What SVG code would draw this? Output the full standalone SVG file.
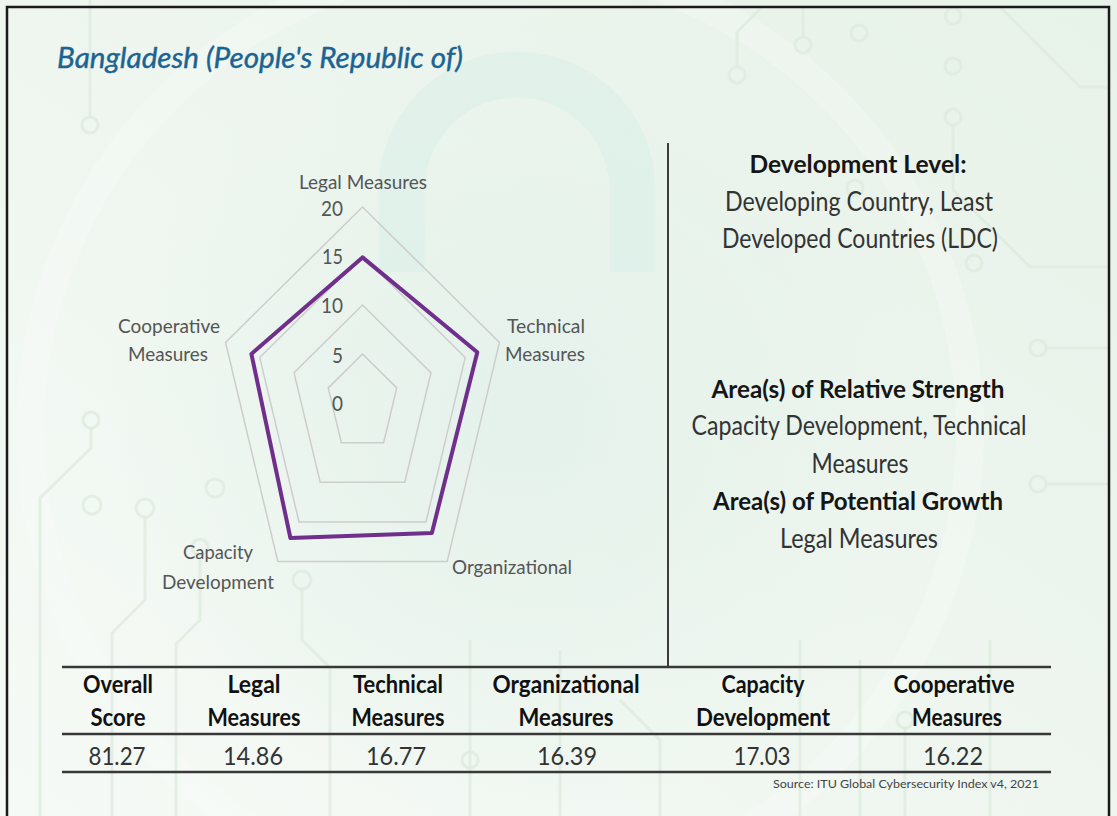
<svg xmlns="http://www.w3.org/2000/svg" width="1117" height="816" viewBox="0 0 1117 816">
  <defs>
    <linearGradient id="bg" x1="1" y1="0" x2="0" y2="1">
      <stop offset="0" stop-color="#e7f2e8"/>
      <stop offset="0.5" stop-color="#eef6ef"/>
      <stop offset="1" stop-color="#f6faf6"/>
    </linearGradient>
    <radialGradient id="glow" cx="0.5" cy="0.5" r="0.5">
      <stop offset="0" stop-color="#e3f1ea" stop-opacity="0.9"/>
      <stop offset="1" stop-color="#e3f1ea" stop-opacity="0"/>
    </radialGradient>
  </defs>
  <style>
    .trace{fill:none;stroke:#dde9dd;stroke-width:3;opacity:.7}
    .node{fill:none;stroke:#dde9dd;stroke-width:3;opacity:.7}
    .ring{fill:none;stroke:#cdcdcd;stroke-width:1.5}
    .series{fill:none;stroke:#702f8c;stroke-width:4;stroke-linejoin:round}
    .lbl{font-family:Lato,"Liberation Sans",sans-serif;font-size:20px;fill:#555}
    .tick{font-family:Lato,"Liberation Sans",sans-serif;font-size:22px;fill:#555;text-anchor:end}
    .hb{font-family:Lato,"Liberation Sans",sans-serif;font-size:25px;font-weight:bold;fill:#151515;text-anchor:middle}
    .hr{font-family:Lato,"Liberation Sans",sans-serif;font-size:26px;fill:#333;text-anchor:middle}
    .th{font-family:Lato,"Liberation Sans",sans-serif;font-size:25px;font-weight:bold;fill:#111;text-anchor:middle}
    .td{font-family:Lato,"Liberation Sans",sans-serif;font-size:25px;fill:#333;text-anchor:middle}
    .rule{stroke:#383838;stroke-width:2.5}
  </style>

  <!-- background -->
  <rect x="0" y="0" width="1117" height="816" fill="url(#bg)"/>
  <ellipse cx="520" cy="420" rx="420" ry="400" fill="url(#glow)"/>
  <circle cx="500" cy="430" r="470" fill="none" stroke="#ffffff" stroke-opacity="0.22" stroke-width="28"/>
  <path d="M378.5,272 V190 A138.5,138.5 0 0 1 655.5,190 V272 H609.5 V190 A92.5,92.5 0 0 0 424.5,190 V272 Z" fill="#d8eee9" fill-opacity="0.55"/>
  <g id="circuits">
    <path class="trace" d="M90,0 V117"/>
    <circle class="node" cx="90" cy="125" r="8"/>
    <circle class="node" cx="91" cy="420" r="8"/>
    <path class="trace" d="M91,428 V448 L40,498 V816"/>
    <circle class="node" cx="92" cy="505" r="9"/>
    <circle class="node" cx="145" cy="508" r="9"/>
    <path class="trace" d="M145,517 V600 L112,633 V816"/>
    <circle class="node" cx="215" cy="488" r="9"/>
    <circle class="node" cx="200" cy="547" r="8"/>
    <path class="trace" d="M200,555 V620 L176,644 V816"/>
    <circle class="node" cx="302" cy="580" r="9"/>
    <path class="trace" d="M302,589 V640 L330,668 V816"/>
    <path class="trace" d="M737,67 V32 L762,7"/>
    <circle class="node" cx="737" cy="75" r="8"/>
    <path class="trace" d="M803,37 V7"/>
    <circle class="node" cx="803" cy="45" r="8"/>
    <circle class="node" cx="859" cy="33" r="8"/>
    <circle class="node" cx="953" cy="16" r="8"/>
    <circle class="node" cx="953" cy="66" r="8"/>
    <circle class="node" cx="953" cy="117" r="8"/>
    <path class="trace" d="M953,125 V190 L1030,267 H1109"/>
    <path class="trace" d="M1000,7 L1080,87 H1109"/>
    <circle class="node" cx="855" cy="188" r="8"/>
    <circle class="node" cx="974" cy="263" r="8"/>
    <circle class="node" cx="1038" cy="348" r="8"/>
    <path class="trace" d="M1046,348 H1109"/>
    <circle class="node" cx="1038" cy="484" r="8"/>
    <path class="trace" d="M1046,484 H1109"/>
    <path class="trace" d="M470,640 V816"/>
    <circle class="node" cx="470" cy="760" r="8"/>
    <path class="trace" d="M560,650 V816"/>
    <path class="trace" d="M620,700 L660,740 V816"/>
    <path class="trace" d="M800,640 V816"/>
    <path class="trace" d="M860,660 V816"/>
    <circle class="node" cx="905" cy="720" r="8"/>
    <path class="trace" d="M905,728 V816"/>
    <path class="trace" d="M990,640 V816"/>
  </g>

  <!-- frame -->
  <path d="M7,816 V7 H1109 V816" fill="none" stroke="#1a1a1a" stroke-width="2.5"/>

  <!-- title -->
  <g id="title">
    <text x="57" y="68" font-family="Lato,'Liberation Sans',sans-serif" font-size="29" font-style="italic" fill="#1b6392" stroke="#1b6392" stroke-width="0.4" textLength="406" lengthAdjust="spacingAndGlyphs">Bangladesh (People's Republic of)</text>
  </g>

  <!-- radar chart -->
  <g id="radar">
    <polygon class="ring" points="362.5,354 396.74,387.86 383.66,442.64 341.34,442.64 328.26,387.86"/>
    <polygon class="ring" points="362.5,305 430.98,372.72 404.82,482.28 320.18,482.28 294.02,372.72"/>
    <polygon class="ring" points="362.5,256 465.22,357.58 425.98,521.92 299.02,521.92 259.78,357.58"/>
    <polygon class="ring" points="362.5,207 499.46,342.44 447.14,561.56 277.86,561.56 225.54,342.44"/>
    <polygon class="series" points="362.5,257.4 477.3,352.2 431.9,532.9 290.4,538.0 251.4,353.9"/>
    <text class="tick" x="343" y="216" textLength="22" lengthAdjust="spacingAndGlyphs">20</text>
    <text class="tick" x="343" y="264" textLength="21" lengthAdjust="spacingAndGlyphs">15</text>
    <text class="tick" x="343" y="313" textLength="22" lengthAdjust="spacingAndGlyphs">10</text>
    <text class="tick" x="343" y="363" textLength="11" lengthAdjust="spacingAndGlyphs">5</text>
    <text class="tick" x="343" y="411" textLength="11" lengthAdjust="spacingAndGlyphs">0</text>
  </g>
  <g id="axis-legal">
    <text class="lbl" x="363" y="189" text-anchor="middle" textLength="128" lengthAdjust="spacingAndGlyphs">Legal Measures</text>
  </g>
  <g id="axis-technical">
    <text class="lbl" x="546" y="333" text-anchor="middle" textLength="78" lengthAdjust="spacingAndGlyphs">Technical</text>
    <text class="lbl" x="545" y="361" text-anchor="middle" textLength="80" lengthAdjust="spacingAndGlyphs">Measures</text>
  </g>
  <g id="axis-organizational">
    <text class="lbl" x="512" y="574" text-anchor="middle" textLength="120" lengthAdjust="spacingAndGlyphs">Organizational</text>
  </g>
  <g id="axis-capacity">
    <text class="lbl" x="218" y="559" text-anchor="middle" textLength="70" lengthAdjust="spacingAndGlyphs">Capacity</text>
    <text class="lbl" x="218" y="589" text-anchor="middle" textLength="112" lengthAdjust="spacingAndGlyphs">Development</text>
  </g>
  <g id="axis-cooperative">
    <text class="lbl" x="169" y="333" text-anchor="middle" textLength="102" lengthAdjust="spacingAndGlyphs">Cooperative</text>
    <text class="lbl" x="168" y="361" text-anchor="middle" textLength="80" lengthAdjust="spacingAndGlyphs">Measures</text>
  </g>

  <!-- divider -->
  <g id="connectors">
    <line x1="668" y1="143" x2="668" y2="667" stroke="#3c3c3c" stroke-width="2"/>
  </g>

  <!-- right info -->
  <g id="development-level">
    <text class="hb" x="858" y="173" textLength="217" lengthAdjust="spacingAndGlyphs">Development Level:</text>
    <text class="hr" x="859" y="211" textLength="268" lengthAdjust="spacingAndGlyphs">Developing Country, Least</text>
    <text class="hr" x="860" y="248" textLength="276" lengthAdjust="spacingAndGlyphs">Developed Countries (LDC)</text>
  </g>
  <g id="relative-strength">
    <text class="hb" x="858" y="398" textLength="293" lengthAdjust="spacingAndGlyphs">Area(s) of Relative Strength</text>
    <text class="hr" x="859" y="435" textLength="335" lengthAdjust="spacingAndGlyphs">Capacity Development, Technical</text>
    <text class="hr" x="860" y="473" textLength="97" lengthAdjust="spacingAndGlyphs">Measures</text>
  </g>
  <g id="potential-growth">
    <text class="hb" x="858" y="510" textLength="290" lengthAdjust="spacingAndGlyphs">Area(s) of Potential Growth</text>
    <text class="hr" x="859" y="548" textLength="158" lengthAdjust="spacingAndGlyphs">Legal Measures</text>
  </g>

  <!-- table -->
  <g id="score-table">
    <line class="rule" x1="62" y1="667" x2="1051" y2="667"/>
    <line class="rule" x1="62" y1="734" x2="1051" y2="734"/>
    <line class="rule" x1="62" y1="772" x2="1051" y2="772"/>
    <text class="th" x="118" y="693" textLength="70" lengthAdjust="spacingAndGlyphs">Overall</text>
    <text class="th" x="118" y="726" textLength="55" lengthAdjust="spacingAndGlyphs">Score</text>
    <text class="td" x="117" y="765" textLength="57" lengthAdjust="spacingAndGlyphs">81.27</text>
    <text class="th" x="254" y="693" textLength="53" lengthAdjust="spacingAndGlyphs">Legal</text>
    <text class="th" x="254" y="726" textLength="93" lengthAdjust="spacingAndGlyphs">Measures</text>
    <text class="td" x="253" y="765" textLength="60" lengthAdjust="spacingAndGlyphs">14.86</text>
    <text class="th" x="398" y="693" textLength="90" lengthAdjust="spacingAndGlyphs">Technical</text>
    <text class="th" x="398" y="726" textLength="93" lengthAdjust="spacingAndGlyphs">Measures</text>
    <text class="td" x="396" y="765" textLength="60" lengthAdjust="spacingAndGlyphs">16.77</text>
    <text class="th" x="566" y="693" textLength="147" lengthAdjust="spacingAndGlyphs">Organizational</text>
    <text class="th" x="566" y="726" textLength="95" lengthAdjust="spacingAndGlyphs">Measures</text>
    <text class="td" x="567" y="765" textLength="60" lengthAdjust="spacingAndGlyphs">16.39</text>
    <text class="th" x="763" y="693" textLength="83" lengthAdjust="spacingAndGlyphs">Capacity</text>
    <text class="th" x="763" y="726" textLength="134" lengthAdjust="spacingAndGlyphs">Development</text>
    <text class="td" x="762" y="765" textLength="57" lengthAdjust="spacingAndGlyphs">17.03</text>
    <text class="th" x="954" y="693" textLength="121" lengthAdjust="spacingAndGlyphs">Cooperative</text>
    <text class="th" x="957" y="726" textLength="90" lengthAdjust="spacingAndGlyphs">Measures</text>
    <text class="td" x="953" y="765" textLength="60" lengthAdjust="spacingAndGlyphs">16.22</text>
    <text x="1039" y="788" font-family="Lato,'Liberation Sans',sans-serif" font-size="11" fill="#444" text-anchor="end" textLength="266" lengthAdjust="spacingAndGlyphs">Source: ITU Global Cybersecurity Index v4, 2021</text>
  </g>
</svg>
